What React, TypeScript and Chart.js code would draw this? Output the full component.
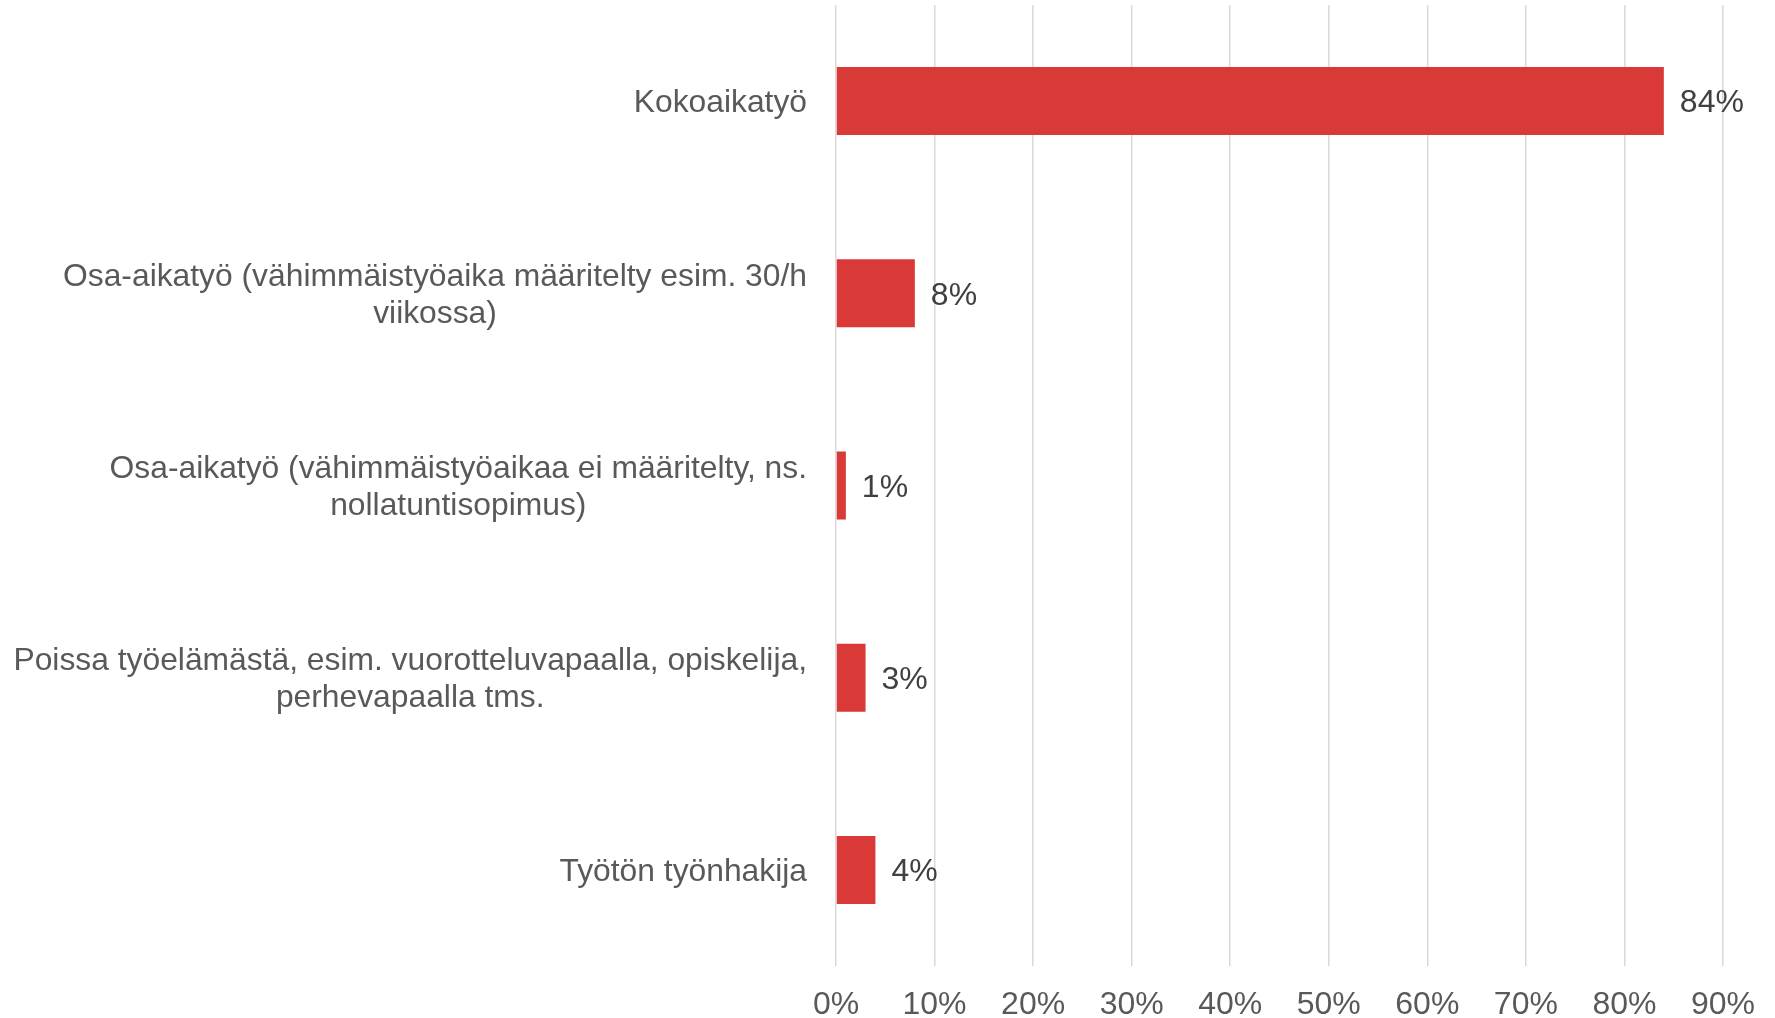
import React, { useEffect, useRef } from "react";
import { Chart, registerables } from "chart.js";

Chart.register(...registerables);

const FONT = '"Liberation Sans", Arial, Helvetica, sans-serif';

const categories: string[][] = [
  ["Kokoaikatyö"],
  ["Osa-aikatyö (vähimmäistyöaika määritelty esim. 30/h", "viikossa)"],
  ["Osa-aikatyö (vähimmäistyöaikaa ei määritelty, ns.", "nollatuntisopimus)"],
  ["Poissa työelämästä, esim. vuorotteluvapaalla, opiskelija,", "perhevapaalla tms."],
  ["Työtön työnhakija"],
];
const values: number[] = [84, 8, 1, 3, 4];
const valueLabels: string[] = ["84%", "8%", "1%", "3%", "4%"];
const xMin = 0;
const xMax = 90;
const xStep = 10;

const BAR_COLOR = "#D93A37";
const LABEL_COLOR = "#595959";
const VALUE_COLOR = "#404040";
const GRID_COLOR = "#D9D9D9";

const categoryLabelPlugin = {
  id: "categoryLabels",
  afterDraw(chart: any) {
    const ctx = chart.ctx;
    const yScale = chart.scales.y;
    const xScale = chart.scales.x;
    ctx.save();
    ctx.font = `31.8px ${FONT}`;
    ctx.fillStyle = LABEL_COLOR;
    ctx.textAlign = "center";
    ctx.textBaseline = "middle";
    const right = xScale.left - 29;
    const lh = 37;
    categories.forEach((lines, i) => {
      const cy = yScale.getPixelForTick(i) + 2;
      const w = Math.max(...lines.map((l) => ctx.measureText(l).width));
      const cx = right - w / 2;
      lines.forEach((l, j) => {
        ctx.fillText(l, cx, cy + (j - (lines.length - 1) / 2) * lh);
      });
    });
    ctx.restore();
  },
};

const valueLabelPlugin = {
  id: "valueLabels",
  afterDatasetsDraw(chart: any) {
    const ctx = chart.ctx;
    const meta = chart.getDatasetMeta(0);
    ctx.save();
    ctx.font = `32px ${FONT}`;
    ctx.fillStyle = VALUE_COLOR;
    ctx.textAlign = "left";
    ctx.textBaseline = "middle";
    meta.data.forEach((bar: any, i: number) => {
      ctx.fillText(valueLabels[i], bar.x + 16, bar.y + 2.5);
    });
    ctx.restore();
  },
};

export default function App() {
  const canvasRef = useRef<HTMLCanvasElement | null>(null);

  useEffect(() => {
    if (!canvasRef.current) return;
    const chart = new Chart(canvasRef.current, {
      type: "bar",
      data: {
        labels: categories.map((c) => c.join(" ")),
        datasets: [
          {
            data: values,
            backgroundColor: BAR_COLOR,
            borderWidth: 0,
            categoryPercentage: 1,
            barPercentage: 0.354,
          },
        ],
      },
      options: {
        indexAxis: "y",
        responsive: false,
        animation: false,
        devicePixelRatio: 1,
        layout: { padding: { top: 5, right: 51, left: 0, bottom: 0 } },
        plugins: {
          legend: { display: false },
          tooltip: { enabled: false },
        },
        scales: {
          x: {
            min: xMin,
            max: xMax,
            border: { display: false },
            grid: { color: GRID_COLOR, lineWidth: 1.5, drawTicks: false },
            ticks: {
              stepSize: xStep,
              padding: 20,
              color: LABEL_COLOR,
              font: { family: FONT, size: 32 },
              callback: (v: any) => `${v}%`,
            },
            afterFit: (s: any) => {
              s.height = 52;
            },
          },
          y: {
            border: { display: false },
            grid: { display: false },
            ticks: { display: false },
            afterFit: (s: any) => {
              s.width = 836;
            },
          },
        },
      },
      plugins: [categoryLabelPlugin, valueLabelPlugin],
    });
    return () => chart.destroy();
  }, []);

  return (
    <div style={{ position: "absolute", left: 0, top: 0, width: 1775, height: 1018, background: "#fff" }}>
      <canvas ref={canvasRef} width={1775} height={1018} />
    </div>
  );
}
